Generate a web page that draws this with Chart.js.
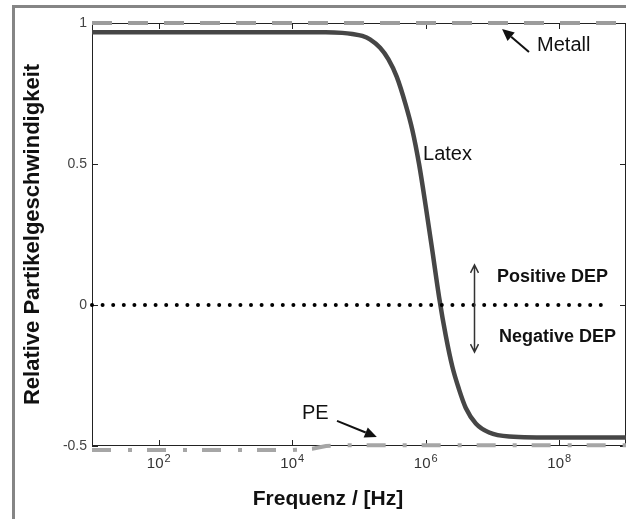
<!DOCTYPE html>
<html>
<head>
<meta charset="utf-8">
<script src="https://cdn.jsdelivr.net/npm/chart.js@4.4.1/dist/chart.umd.min.js"></script>
<style>
  body { margin: 0; background: #fff; }
  canvas { display: block; }
</style>
</head>
<body>
<canvas id="depChart" width="627" height="519"></canvas>
<script>
  // values (frequency in Hz, relative particle velocity)
  const latexFreq = [10, 1e3, 3.16e4, 5.6e4, 7.94e4, 1.12e5, 1.46e5, 2.07e5, 2.75e5, 3.67e5, 5.01e5, 6.31e5, 7.94e5, 1e6, 1.26e6, 1.58e6, 2.0e6, 2.51e6, 3.16e6, 3.98e6, 5.62e6, 8.91e6, 1.78e7, 1e8, 1e9];
  const latexVel = [0.967, 0.967, 0.967, 0.965, 0.961, 0.954, 0.942, 0.912, 0.872, 0.81, 0.71, 0.62, 0.5, 0.35, 0.19, 0.03, -0.11, -0.22, -0.3, -0.365, -0.42, -0.452, -0.466, -0.47, -0.47];
  const metallFreq = [10, 1e9];
  const metallVel = [1, 1];
  const peFreq = [10, 1e4, 2e4, 3.2e4, 6e4, 1e9];
  const peVel = [-0.514, -0.514, -0.51, -0.5, -0.497, -0.497];
  const zeroFreq = [10, 5.6e8];
  const zeroVel = [0, 0];

  const xTickValues = [1e2, 1e4, 1e6, 1e8];
  const xTickBase = '10';
  const xTickExp = ['2', '4', '6', '8'];
  const yTickValues = [-0.5, 0, 0.5, 1];
  const yTickLabels = ['-0.5', '0', '0.5', '1'];
  const xTitle = 'Frequenz / [Hz]';
  const yTitle = 'Relative Partikelgeschwindigkeit';

  const FONT = '"Liberation Sans", Arial, sans-serif';

  function pts(xs, ys) {
    return xs.map((x, i) => ({ x: x, y: ys[i] }));
  }

  // text labels anchored in data coordinates
  const notes = [
    { text: 'Metall', f: 4.65e7, v: 0.922, font: '20px ' + FONT },
    { text: 'Latex', f: 9.1e5, v: 0.532, font: '20px ' + FONT },
    { text: 'PE', f: 1.4e4, v: -0.383, font: '20px ' + FONT },
    { text: 'Positive DEP', f: 1.17e7, v: 0.099, font: 'bold 18px ' + FONT },
    { text: 'Negative DEP', f: 1.25e7, v: -0.113, font: 'bold 18px ' + FONT }
  ];
  const pointers = [
    { f1: 3.52e7, v1: 0.897, f2: 1.39e7, v2: 0.979 },
    { f1: 4.68e4, v1: -0.411, f2: 1.85e5, v2: -0.468 }
  ];
  const depArrow = { f: 5.28e6, v1: 0.142, v2: -0.167 };

  function filledArrow(ctx, x1, y1, x2, y2) {
    const a = Math.atan2(y2 - y1, x2 - x1);
    const len = 12, w = 5.5;
    ctx.beginPath();
    ctx.moveTo(x1, y1);
    ctx.lineTo(x2 - len * Math.cos(a), y2 - len * Math.sin(a));
    ctx.stroke();
    ctx.beginPath();
    ctx.moveTo(x2, y2);
    ctx.lineTo(x2 - len * Math.cos(a) + w * Math.sin(a), y2 - len * Math.sin(a) - w * Math.cos(a));
    ctx.lineTo(x2 - len * Math.cos(a) - w * Math.sin(a), y2 - len * Math.sin(a) + w * Math.cos(a));
    ctx.closePath();
    ctx.fill();
  }

  const decor = {
    id: 'decor',
    beforeDraw(chart) {
      const ctx = chart.ctx;
      ctx.save();
      ctx.strokeStyle = '#858585';
      ctx.lineWidth = 3;
      ctx.beginPath();
      ctx.moveTo(12, 6.5);
      ctx.lineTo(626, 6.5);
      ctx.moveTo(13.5, 5);
      ctx.lineTo(13.5, 519);
      ctx.stroke();
      ctx.restore();
    },
    beforeDatasetsDraw(chart) {
      const ctx = chart.ctx;
      const a = chart.chartArea;
      const xs = chart.scales.x, ys = chart.scales.y;
      ctx.save();
      ctx.strokeStyle = '#222';
      ctx.lineWidth = 1;
      ctx.strokeRect(a.left + 0.5, a.top + 0.5, a.right - a.left - 1, a.bottom - a.top - 1);
      ctx.beginPath();
      xTickValues.forEach(v => {
        const px = Math.round(xs.getPixelForValue(v)) + 0.5;
        ctx.moveTo(px, a.bottom); ctx.lineTo(px, a.bottom - 6);
        ctx.moveTo(px, a.top); ctx.lineTo(px, a.top + 6);
      });
      yTickValues.forEach(v => {
        const py = Math.round(ys.getPixelForValue(v)) + 0.5;
        ctx.moveTo(a.left, py); ctx.lineTo(a.left + 6, py);
        ctx.moveTo(a.right, py); ctx.lineTo(a.right - 6, py);
      });
      ctx.stroke();

      // x tick labels with raised exponent
      ctx.fillStyle = '#333';
      ctx.textBaseline = 'alphabetic';
      ctx.textAlign = 'left';
      xTickValues.forEach((v, i) => {
        const px = xs.getPixelForValue(v);
        ctx.font = '15px ' + FONT;
        const w1 = ctx.measureText(xTickBase).width;
        ctx.font = '11px ' + FONT;
        const w2 = ctx.measureText(xTickExp[i]).width;
        const x0 = px - (w1 + 1 + w2) / 2;
        ctx.font = '15px ' + FONT;
        ctx.fillText(xTickBase, x0, a.bottom + 22);
        ctx.font = '11px ' + FONT;
        ctx.fillText(xTickExp[i], x0 + w1 + 1, a.bottom + 16);
      });

      // x axis title, centred under the figure as in the original
      ctx.fillStyle = '#111';
      ctx.font = 'bold 21px ' + FONT;
      ctx.textAlign = 'center';
      ctx.textBaseline = 'middle';
      ctx.fillText(xTitle, 328, a.bottom + 53);
      ctx.restore();
    },
    afterDatasetsDraw(chart) {
      const ctx = chart.ctx;
      const xs = chart.scales.x, ys = chart.scales.y;
      ctx.save();
      ctx.fillStyle = '#111';
      ctx.textBaseline = 'middle';
      ctx.textAlign = 'left';
      notes.forEach(n => {
        ctx.font = n.font;
        ctx.fillText(n.text, xs.getPixelForValue(n.f), ys.getPixelForValue(n.v));
      });
      ctx.strokeStyle = '#111';
      ctx.lineWidth = 2;
      pointers.forEach(p => {
        filledArrow(ctx, xs.getPixelForValue(p.f1), ys.getPixelForValue(p.v1),
          xs.getPixelForValue(p.f2), ys.getPixelForValue(p.v2));
      });
      // double arrow between positive / negative DEP
      const dx = Math.round(xs.getPixelForValue(depArrow.f)) + 0.5;
      const t = ys.getPixelForValue(depArrow.v1), b = ys.getPixelForValue(depArrow.v2);
      ctx.strokeStyle = '#333';
      ctx.lineWidth = 1.5;
      ctx.beginPath();
      ctx.moveTo(dx, t); ctx.lineTo(dx, b);
      ctx.moveTo(dx - 4, t + 8); ctx.lineTo(dx, t); ctx.lineTo(dx + 4, t + 8);
      ctx.moveTo(dx - 4, b - 8); ctx.lineTo(dx, b); ctx.lineTo(dx + 4, b - 8);
      ctx.stroke();
      ctx.restore();
    }
  };

  new Chart(document.getElementById('depChart'), {
    type: 'line',
    data: {
      datasets: [
        {
          label: 'PE', data: pts(peFreq, peVel),
          borderColor: '#a6a6a6', borderWidth: 4, borderDash: [19, 17, 4, 15],
          pointRadius: 0, clip: 8, tension: 0
        },
        {
          label: 'Metall', data: pts(metallFreq, metallVel),
          borderColor: '#9c9c9c', borderWidth: 4, borderDash: [20, 16],
          pointRadius: 0, clip: 8
        },
        {
          label: 'Null', data: pts(zeroFreq, zeroVel),
          borderColor: '#000', borderWidth: 4, borderDash: [0, 10.6], borderCapStyle: 'round',
          pointRadius: 0, clip: 8
        },
        {
          label: 'Latex', data: pts(latexFreq, latexVel),
          borderColor: '#464646', borderWidth: 4.5, cubicInterpolationMode: 'monotone',
          pointRadius: 0, clip: 8
        }
      ]
    },
    options: {
      responsive: false,
      animation: false,
      layout: { padding: { top: 23, right: 1, left: 0, bottom: 0 } },
      plugins: { legend: { display: false }, tooltip: { enabled: false } },
      scales: {
        x: {
          type: 'logarithmic', min: 10, max: 1e9,
          grid: { display: false, drawTicks: false },
          border: { display: false },
          afterBuildTicks: s => { s.ticks = xTickValues.map(v => ({ value: v })); },
          afterFit: s => { s.height = 73; },
          ticks: { display: false }
        },
        y: {
          min: -0.5, max: 1,
          grid: { display: false, drawTicks: false },
          border: { display: false },
          afterBuildTicks: s => { s.ticks = yTickValues.map(v => ({ value: v })); },
          afterFit: s => { s.width = 92; },
          ticks: {
            padding: 5, color: '#444',
            font: { family: FONT, size: 14 },
            callback: (v, i) => yTickLabels[i]
          },
          title: {
            display: true, text: yTitle, color: '#111',
            font: { family: FONT, size: 22, weight: 'bold' },
            padding: { top: 20, bottom: 0 }
          }
        }
      }
    },
    plugins: [decor]
  });
</script>
</body>
</html>
